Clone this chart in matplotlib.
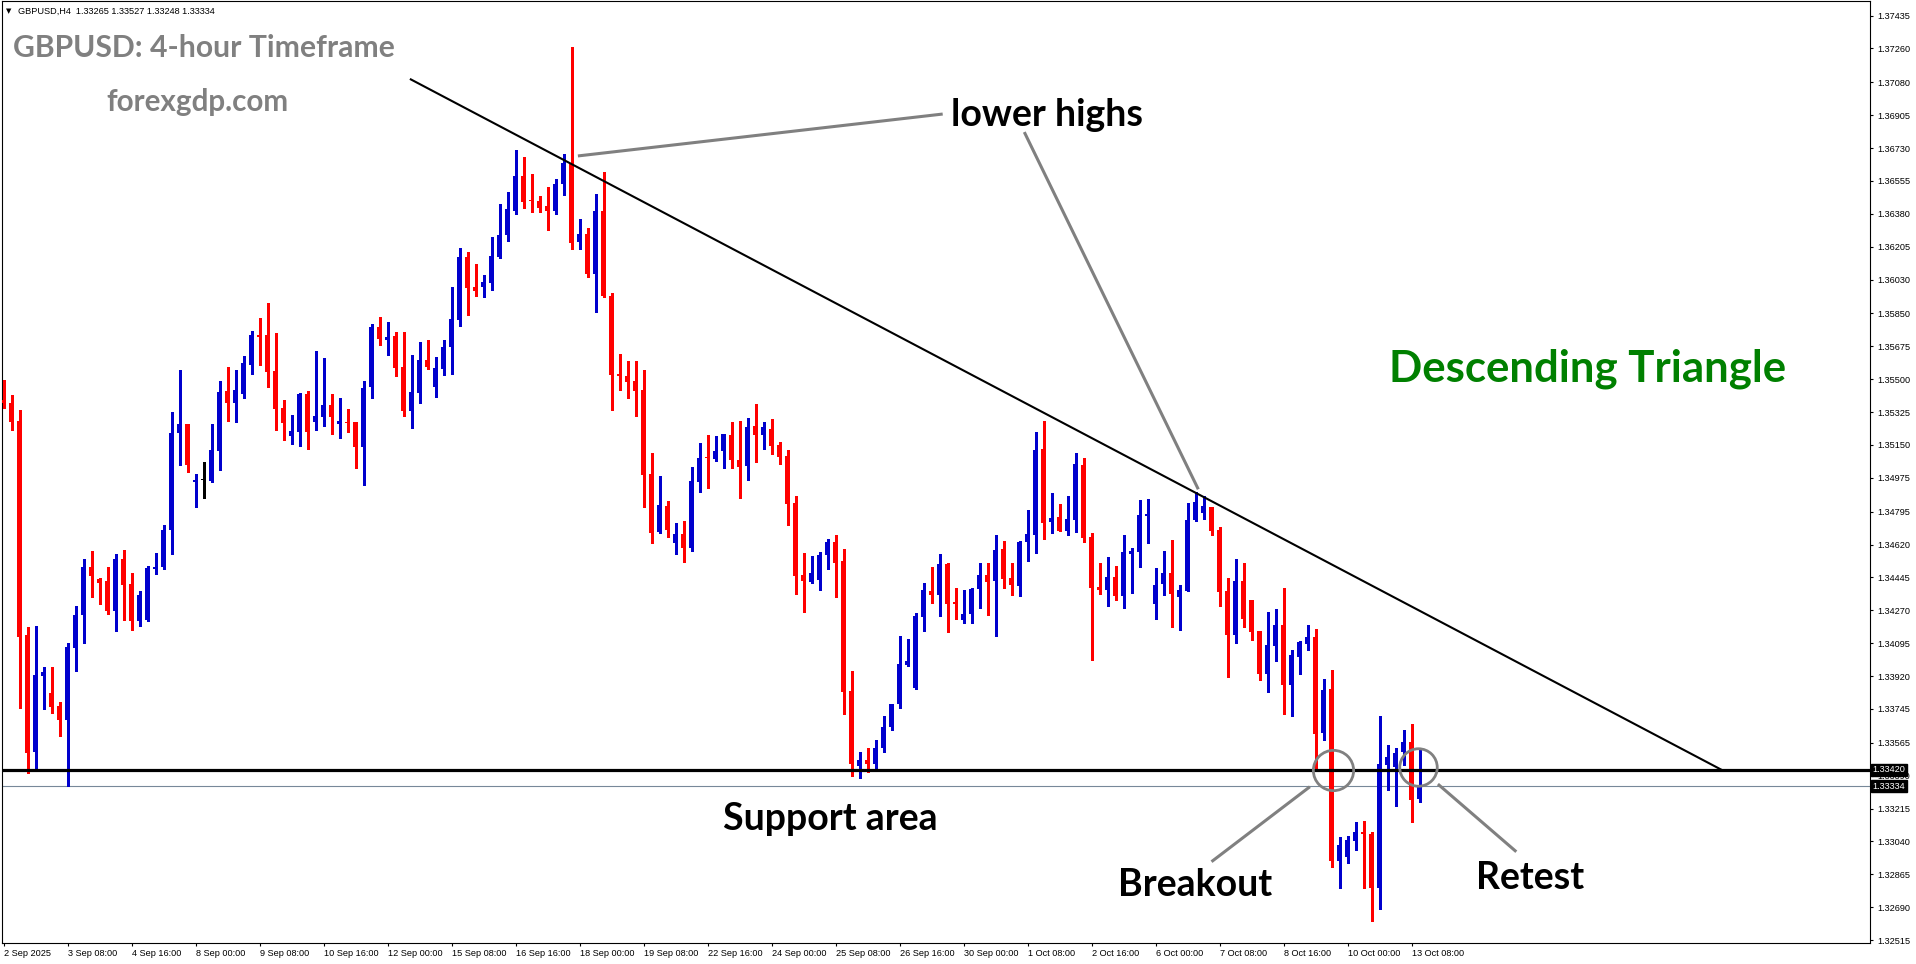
import matplotlib
matplotlib.use("Agg")
import matplotlib.pyplot as plt
from matplotlib.transforms import blended_transform_factory

# ---------------- data (GBPUSD H4 candles) ----------------
opens = [
 1.35389,1.35373,1.35277,1.34138,1.33517,1.33922,1.33830,1.33761,1.33688,1.34071,
 1.34247,1.34500,1.34437,1.34426,1.34266,1.34543,1.34410,1.34213,1.34218,1.34490,
 1.34500,1.34697,1.35215,1.35263,1.34954,1.34963,1.34958,1.35119,1.35437,1.35375,
 1.35421,1.35577,1.35735,1.35735,1.35543,1.35347,1.35199,1.35220,1.35423,1.35274,
 1.35300,1.35363,1.35263,1.35272,1.35272,1.35141,1.35457,1.35776,1.35710,1.35730,
 1.35565,1.35332,1.35428,1.35602,1.35460,1.35556,1.35671,1.35816,1.36150,1.35991,
 1.35991,1.36013,1.36152,1.36267,1.36397,1.36581,1.36455,1.36448,1.36422,1.36397,
 1.36539,1.36650,1.36230,1.36273,1.36061,1.36395,1.35943,1.35528,1.35517,1.35490,
 1.35442,1.34995,1.34688,1.34825,1.34630,1.34676,1.34603,1.34954,1.35086,1.35075,
 1.35119,1.35203,1.35070,1.35039,1.35251,1.35203,1.35235,1.35150,1.35091,1.34841,
 1.34458,1.34422,1.34433,1.34566,1.34633,1.34532,1.33840,1.33441,1.33473,1.33452,
 1.33537,1.33650,1.33773,1.33980,1.33858,1.34236,1.34373,1.34353,1.34516,1.34314,
 1.34220,1.34252,1.34385,1.34458,1.34427,1.34596,1.34442,1.34401,1.34635,1.34672,
 1.35128,1.34741,1.34766,1.34694,1.34752,1.35043,1.34660,1.34394,1.34380,1.34447,
 1.34348,1.34571,1.34582,1.34773,1.34305,1.34411,1.34470,1.34342,1.34374,1.34752,
 1.34789,1.34820,1.34697,1.34373,1.34140,1.34426,1.34325,1.34161,1.33933,1.34082,
 1.34193,1.33874,1.34023,1.34092,1.34129,1.33619,1.33853,1.32937,1.32959,1.33044,
 1.33092,1.33081,1.32794,1.33448,1.33438,1.33517,1.33571,1.33265]
highs = [
 1.35496,1.35416,1.35336,1.34181,1.34186,1.33968,1.33968,1.33782,1.34096,1.34293,
 1.34543,1.34586,1.34442,1.34500,1.34570,1.34591,1.34468,1.34373,1.34506,1.34575,
 1.34724,1.35325,1.35549,1.35263,1.34995,1.35061,1.35263,1.35490,1.35566,1.35549,
 1.35623,1.35758,1.35826,1.35907,1.35747,1.35389,1.35309,1.35428,1.35437,1.35652,
 1.35613,1.35421,1.35401,1.35341,1.35272,1.35490,1.35794,1.35831,1.35804,1.35753,
 1.35753,1.35629,1.35698,1.35710,1.35618,1.35710,1.35991,1.36200,1.36177,1.36113,
 1.36054,1.36257,1.36432,1.36496,1.36720,1.36682,1.36592,1.36476,1.36523,1.36565,
 1.36700,1.37270,1.36352,1.36305,1.36485,1.36603,1.35959,1.35634,1.35597,1.35597,
 1.35549,1.35107,1.34985,1.34852,1.34735,1.34745,1.35033,1.35160,1.35203,1.35198,
 1.35208,1.35272,1.35277,1.35293,1.35368,1.35272,1.35288,1.35166,1.35123,1.34878,
 1.34576,1.34561,1.34582,1.34651,1.34671,1.34596,1.33947,1.33516,1.33537,1.33580,
 1.33707,1.33771,1.34133,1.34117,1.34256,1.34415,1.34500,1.34570,1.34522,1.34390,
 1.34378,1.34389,1.34522,1.34522,1.34671,1.34639,1.34522,1.34639,1.34804,1.35219,
 1.35277,1.34894,1.34836,1.34878,1.35107,1.35080,1.34683,1.34523,1.34555,1.34507,
 1.34672,1.34603,1.34857,1.34862,1.34495,1.34586,1.34646,1.34405,1.34841,1.34900,
 1.34878,1.34820,1.34713,1.34442,1.34543,1.34522,1.34325,1.34161,1.34262,1.34278,
 1.34390,1.34060,1.34108,1.34193,1.34172,1.33906,1.33954,1.33065,1.33070,1.33145,
 1.33150,1.33092,1.33709,1.33555,1.33539,1.33634,1.33666,1.33527]
lows = [
 1.35347,1.35229,1.33752,1.33404,1.33425,1.33746,1.33723,1.33603,1.33335,1.33948,
 1.34097,1.34341,1.34303,1.34250,1.34160,1.34218,1.34165,1.34186,1.34213,1.34463,
 1.34490,1.34570,1.35043,1.35008,1.34821,1.34866,1.34954,1.35017,1.35277,1.35274,
 1.35401,1.35529,1.35577,1.35458,1.35229,1.35176,1.35155,1.35146,1.35128,1.35229,
 1.35251,1.35208,1.35188,1.35220,1.35029,1.34937,1.35398,1.35682,1.35629,1.35518,
 1.35304,1.35242,1.35375,1.35556,1.35407,1.35524,1.35529,1.35785,1.35842,1.35943,
 1.35939,1.35975,1.36145,1.36237,1.36381,1.36411,1.36391,1.36391,1.36296,1.36381,
 1.36480,1.36193,1.36193,1.36045,1.35859,1.35939,1.35336,1.35442,1.35401,1.35304,
 1.34821,1.34630,1.34683,1.34662,1.34571,1.34529,1.34587,1.34901,1.34922,1.35066,
 1.35029,1.35029,1.34869,1.34965,1.35061,1.35130,1.35103,1.35050,1.34725,1.34358,
 1.34262,1.34417,1.34380,1.34491,1.34341,1.33720,1.33388,1.33377,1.33409,1.33420,
 1.33516,1.33633,1.33750,1.33975,1.33853,1.34161,1.34310,1.34241,1.34156,1.34225,
 1.34204,1.34204,1.34284,1.34247,1.34135,1.34390,1.34353,1.34348,1.34534,1.34576,
 1.34651,1.34683,1.34694,1.34672,1.34688,1.34635,1.34007,1.34358,1.34294,1.34326,
 1.34284,1.34364,1.34502,1.34630,1.34225,1.34353,1.34183,1.34167,1.34374,1.34747,
 1.34757,1.34672,1.34294,1.33917,1.34097,1.34183,1.34113,1.33901,1.33837,1.34002,
 1.33720,1.33709,1.33933,1.34060,1.33427,1.33581,1.32905,1.32794,1.32927,1.32996,
 1.32794,1.32618,1.32682,1.33315,1.33230,1.33448,1.33145,1.33248]
closes = [
 1.35373,1.35272,1.34129,1.33512,1.33926,1.33942,1.33755,1.33688,1.34075,1.34245,
 1.34500,1.34454,1.34417,1.34266,1.34543,1.34405,1.34213,1.34351,1.34495,1.34500,
 1.34697,1.35215,1.35263,1.35043,1.34963,1.34963,1.35123,1.35432,1.35375,1.35442,
 1.35586,1.35735,1.35726,1.35540,1.35343,1.35268,1.35226,1.35423,1.35220,1.35304,
 1.35363,1.35300,1.35277,1.35268,1.35141,1.35453,1.35776,1.35715,1.35724,1.35561,
 1.35332,1.35432,1.35602,1.35565,1.35559,1.35671,1.35820,1.36150,1.35987,1.35969,
 1.36017,1.36157,1.36267,1.36406,1.36581,1.36445,1.36450,1.36413,1.36397,1.36539,
 1.36650,1.36225,1.36273,1.36061,1.36395,1.35944,1.35522,1.35518,1.35487,1.35439,
 1.34990,1.34683,1.34830,1.34699,1.34676,1.34603,1.34958,1.35080,1.35080,1.35118,
 1.35208,1.35070,1.35034,1.35245,1.35203,1.35245,1.35146,1.35087,1.34837,1.34454,
 1.34427,1.34470,1.34566,1.34635,1.34523,1.33837,1.33452,1.33473,1.33452,1.33537,
 1.33649,1.33771,1.33986,1.34002,1.34240,1.34378,1.34351,1.34516,1.34305,1.34305,
 1.34250,1.34383,1.34458,1.34422,1.34591,1.34438,1.34406,1.34633,1.34676,1.35123,
 1.34736,1.34761,1.34694,1.34756,1.35049,1.34656,1.34390,1.34380,1.34447,1.34348,
 1.34582,1.34586,1.34777,1.34784,1.34405,1.34470,1.34358,1.34378,1.34751,1.34846,
 1.34825,1.34694,1.34369,1.34140,1.34426,1.34225,1.34156,1.33933,1.34087,1.34193,
 1.33874,1.34034,1.34103,1.34129,1.33613,1.33847,1.32937,1.33022,1.33049,1.33092,
 1.33081,1.32794,1.33454,1.33491,1.33512,1.33571,1.33262,1.33334]

date_labels = ["2 Sep 2025", "3 Sep 08:00", "4 Sep 16:00", "8 Sep 00:00", "9 Sep 08:00",
               "10 Sep 16:00", "12 Sep 00:00", "15 Sep 08:00", "16 Sep 16:00", "18 Sep 00:00",
               "19 Sep 08:00", "22 Sep 16:00", "24 Sep 00:00", "25 Sep 08:00", "26 Sep 16:00",
               "30 Sep 00:00", "1 Oct 08:00", "2 Oct 16:00", "6 Oct 00:00", "7 Oct 08:00",
               "8 Oct 16:00", "10 Oct 00:00", "13 Oct 08:00"]
date_label_step = 8
price_ticks = [1.37435, 1.37260, 1.37080, 1.36905, 1.36730, 1.36555, 1.36380, 1.36205,
               1.36030, 1.35850, 1.35675, 1.35500, 1.35325, 1.35150, 1.34975, 1.34795,
               1.34620, 1.34445, 1.34270, 1.34095, 1.33920, 1.33745, 1.33565, 1.33390,
               1.33215, 1.33040, 1.32865, 1.32690, 1.32515]

support_level = 1.33420
bid_price = 1.33334
trend_x = [50.8, 214.8]
trend_y = [1.37098, 1.33420]
header = "GBPUSD,H4  1.33265 1.33527 1.33248 1.33334"

# ---------------- figure ----------------
W, H = 1916, 964
DPI = 100
fig = plt.figure(figsize=(W / DPI, H / DPI), dpi=DPI)
fig.patch.set_facecolor("white")

L, R, T, B = 2, 1870, 1, 943
ax = fig.add_axes([L / W, 1 - B / H, (R - L) / W, (B - T) / H])
ax.set_facecolor("white")
px_per_bar = 8.0
x0 = 3.5
ax.set_xlim((L - x0) / px_per_bar, (R - x0) / px_per_bar)
ppx = 1 / 18790.0
ax.set_ylim(support_level - (B - 770) * ppx, support_level + (770 - T) * ppx)

BLUE = "#0000CD"
RED = "#FF0000"
n = len(opens)
xs = list(range(n))
cols = []
for o, c in zip(opens, closes):
    cols.append(BLUE if c > o else (RED if c < o else "black"))

ax.vlines(xs, lows, highs, colors=cols, linewidth=0.8, zorder=3, antialiased=False)
bottoms = [min(o, c) for o, c in zip(opens, closes)]
heights = [max(abs(c - o), 1.1 * ppx) for o, c in zip(opens, closes)]
ax.bar(xs, heights, bottom=bottoms, width=0.64, color=cols, linewidth=0,
       zorder=3, antialiased=False)

# support line, bid line, trend line
ax.axhline(support_level, color="black", linewidth=2.3, zorder=4)
ax.axhline(bid_price, color="#778899", linewidth=0.8, zorder=2)
ax.plot(trend_x, trend_y, color="black", linewidth=1.5, zorder=4,
        solid_capstyle="butt")

GRAY = "#808080"
# annotation lines
ax.plot([71.8, 117.4], [1.36688, 1.36911], color=GRAY, lw=2.2, zorder=5,
        solid_capstyle="butt")
ax.plot([127.6, 149.35], [1.36815, 1.34914], color=GRAY, lw=2.2, zorder=5,
        solid_capstyle="butt")
ax.plot([163.3, 151.0], [1.33331, 1.32932], color=GRAY, lw=2.2, zorder=5,
        solid_capstyle="butt")
ax.plot([179.3, 189.1], [1.33345, 1.32985], color=GRAY, lw=2.2, zorder=5,
        solid_capstyle="butt")
# circles
ax.plot([166.15], [1.33420], marker="o", markersize=29, markerfacecolor="none",
        markeredgecolor=GRAY, markeredgewidth=2.0, zorder=6)
ax.plot([176.8], [1.33438], marker="o", markersize=27, markerfacecolor="none",
        markeredgecolor=GRAY, markeredgewidth=2.0, zorder=6)

# axes styling
for s in ax.spines.values():
    s.set_linewidth(0.8)
    s.set_color("black")
ax.yaxis.tick_right()
ax.set_yticks(price_ticks)
ax.set_yticklabels(["%.5f" % p for p in price_ticks])
ax.set_xticks(list(range(0, date_label_step * len(date_labels), date_label_step)))
ax.set_xticklabels(date_labels, ha="left")
ax.tick_params(axis="y", direction="out", length=2.5, width=0.8, pad=2.5,
               labelsize=6.6, colors="black")
ax.tick_params(axis="x", direction="out", length=2.5, width=0.8, pad=2.0,
               labelsize=6.6, colors="black")
for lab in ax.get_xticklabels() + ax.get_yticklabels():
    lab.set_fontfamily("Liberation Sans")

# price boxes on the axis
tr = blended_transform_factory(ax.transAxes, ax.transData)
for val in (support_level, bid_price):
    ax.text(1.0015, val, "%.5f" % val, transform=tr, ha="left", va="center",
            fontsize=6.6, family="Liberation Sans", color="white", clip_on=False,
            zorder=10, bbox=dict(facecolor="black", edgecolor="black", pad=1.2))

# ---------------- texts ----------------
def fx(x):
    return x / W

def fy(y):
    return 1 - y / H

FONT = ["Lato", "DejaVu Sans"]
fig.text(fx(6), fy(11), "\u25BC", fontsize=5, va="center", ha="left",
         family="DejaVu Sans")
fig.text(fx(18), fy(11), header, fontsize=6.6, va="center", ha="left",
         family="Liberation Sans")
fig.text(fx(13), fy(57), "GBPUSD: 4-hour Timeframe", fontsize=21.7, fontweight="bold",
         color="#808080", family=FONT, va="baseline", ha="left")
fig.text(fx(106), fy(111), "forexgdp.com", fontsize=21.3, fontweight="bold",
         color="#808080", family=FONT, va="baseline", ha="left")
fig.text(fx(951), fy(126), "lower highs", fontsize=27, fontweight="bold",
         color="black", family=FONT, va="baseline", ha="left")
fig.text(fx(1389), fy(382), "Descending Triangle", fontsize=31.5, fontweight="bold",
         color="#008000", family=FONT, va="baseline", ha="left")
fig.text(fx(723), fy(830), "Support area", fontsize=27, fontweight="bold",
         color="black", family=FONT, va="baseline", ha="left")
fig.text(fx(1118), fy(896), "Breakout", fontsize=27, fontweight="bold",
         color="black", family=FONT, va="baseline", ha="left")
fig.text(fx(1476), fy(889), "Retest", fontsize=27, fontweight="bold",
         color="black", family=FONT, va="baseline", ha="left")

fig.savefig("out.png", dpi=DPI, facecolor="white")
